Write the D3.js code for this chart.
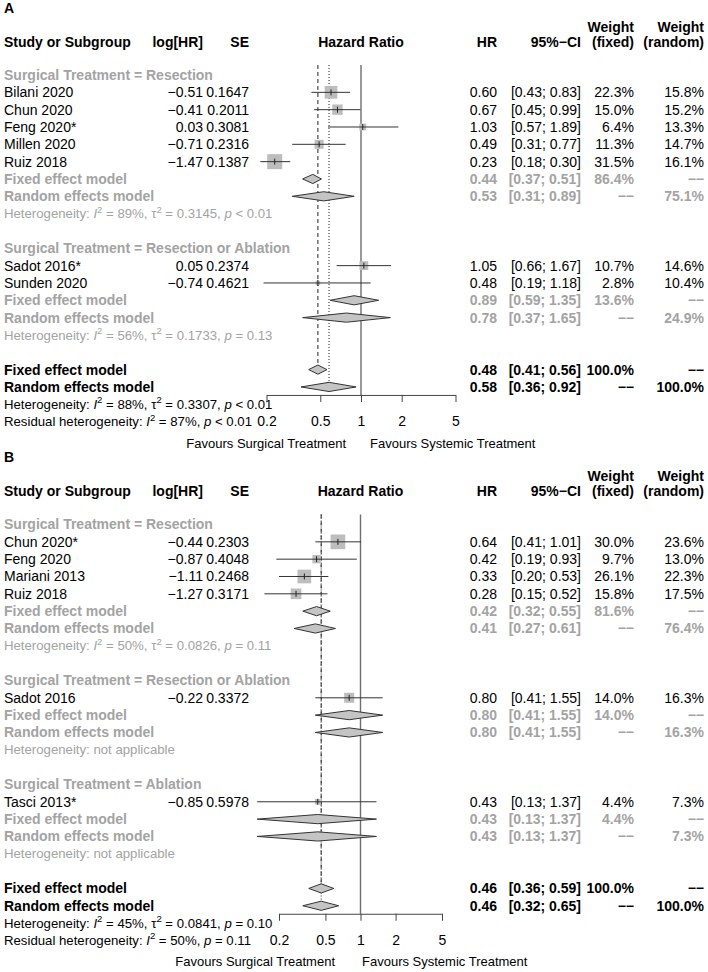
<!DOCTYPE html>
<html><head><meta charset="utf-8">
<script src="https://cdn.jsdelivr.net/npm/d3@7"></script>
<style>
body{margin:0;background:#fff}
svg{display:block;font-family:"Liberation Sans",Arial,Helvetica,sans-serif}
</style>
</head><body>
<svg id="c" width="708" height="972"></svg>
<script>
// ---------- Panel A data ----------
const subgroupsA = ["Resection", "Resection or Ablation"];
const studyA = ["Bilani 2020", "Chun 2020", "Feng 2020*", "Millen 2020", "Ruiz 2018", "Sadot 2016*", "Sunden 2020"];
const groupA = [0, 0, 0, 0, 0, 1, 1];
const logHRA = [-0.51, -0.41, 0.03, -0.71, -1.47, 0.05, -0.74];
const seA = [0.1647, 0.2011, 0.3081, 0.2316, 0.1387, 0.2374, 0.4621];
const hrA = [0.60, 0.67, 1.03, 0.49, 0.23, 1.05, 0.48];
const loA = [0.43, 0.45, 0.57, 0.31, 0.18, 0.66, 0.19];
const hiA = [0.83, 0.99, 1.89, 0.77, 0.30, 1.67, 1.18];
const wFixedA = [22.3, 15.0, 6.4, 11.3, 31.5, 10.7, 2.8];
const wRandomA = [15.8, 15.2, 13.3, 14.7, 16.1, 14.6, 10.4];
const subFixedA = [[0.44, 0.37, 0.51], [0.89, 0.59, 1.35]];
const subFixedWA = [86.4, 13.6];
const subRandomA = [[0.53, 0.31, 0.89], [0.78, 0.37, 1.65]];
const subRandomWA = [75.1, 24.9];
const subHetA = [["89%", "0.3145", "< 0.01"], ["56%", "0.1733", "= 0.13"]];
const overallFixedA = [0.48, 0.41, 0.56];
const overallRandomA = [0.58, 0.36, 0.92];
const overallHetA = ["88%", "0.3307", "< 0.01"];
const residHetA = ["87%", "< 0.01"];

// ---------- Panel B data ----------
const subgroupsB = ["Resection", "Resection or Ablation", "Ablation"];
const studyB = ["Chun 2020*", "Feng 2020", "Mariani 2013", "Ruiz 2018", "Sadot 2016", "Tasci 2013*"];
const groupB = [0, 0, 0, 0, 1, 2];
const logHRB = [-0.44, -0.87, -1.11, -1.27, -0.22, -0.85];
const seB = [0.2303, 0.4048, 0.2468, 0.3171, 0.3372, 0.5978];
const hrB = [0.64, 0.42, 0.33, 0.28, 0.80, 0.43];
const loB = [0.41, 0.19, 0.20, 0.15, 0.41, 0.13];
const hiB = [1.01, 0.93, 0.53, 0.52, 1.55, 1.37];
const wFixedB = [30.0, 9.7, 26.1, 15.8, 14.0, 4.4];
const wRandomB = [23.6, 13.0, 22.3, 17.5, 16.3, 7.3];
const subFixedB = [[0.42, 0.32, 0.55], [0.80, 0.41, 1.55], [0.43, 0.13, 1.37]];
const subFixedWB = [81.6, 14.0, 4.4];
const subRandomB = [[0.41, 0.27, 0.61], [0.80, 0.41, 1.55], [0.43, 0.13, 1.37]];
const subRandomWB = [76.4, 16.3, 7.3];
const subHetB = [["50%", "0.0826", "= 0.11"], null, null];
const overallFixedB = [0.46, 0.36, 0.59];
const overallRandomB = [0.46, 0.32, 0.65];
const overallHetB = ["45%", "0.0841", "= 0.10"];
const residHetB = ["50%", "= 0.11"];

const tickValues = [0.2, 0.5, 1, 2, 5];
const tickLabels = ["0.2", "0.5", "1", "2", "5"];

// ---------- drawing ----------
const svg = d3.select("#c");
const GRAY = "#a3a3a3";
const FS = 14, FSH = 13.2;
const PITCH = 17.33;
const DASHES = "\u2212\u2212";
const col = {logHR: 203, se: 249, hr: 497, ci: 581, wf: 634, wr: 704};
const f2 = d3.format(".2f"), f4 = d3.format(".4f"), f1 = d3.format(".1f");
const sizeScale = d3.scaleSqrt().domain([0, 100]).range([0, 26.8]);

function ciText(a) { return "[" + f2(a[1]) + "; " + f2(a[2]) + "]"; }

function richText(g, x, y, parts, color, size, anchor) {
  const t = g.append("text").attr("x", x).attr("y", y).attr("dy", "0.35em")
    .attr("font-size", size).attr("fill", color).attr("text-anchor", anchor || "start");
  let shifted = false;
  parts.forEach(p => {
    const s = t.append("tspan").text(p.t);
    if (p.i) s.attr("font-style", "italic");
    if (p.sup) { s.attr("dy", -size * 0.42).attr("font-size", size * 0.72); shifted = true; }
    else if (shifted) { s.attr("dy", size * 0.42); shifted = false; }
  });
  return t;
}
function hetParts(h) {
  if (!h) return [{t: "Heterogeneity: not applicable"}];
  return [{t: "Heterogeneity: "}, {t: "I", i: 1}, {t: "2", sup: 1}, {t: " = " + h[0] + ",  "},
          {t: "τ"}, {t: "2", sup: 1}, {t: " = " + h[1] + ", "}, {t: "p", i: 1}, {t: " " + h[2]}];
}
function txt(g, x, y, s, o) {
  o = o || {};
  return g.append("text").attr("x", x).attr("y", y).attr("dy", "0.35em")
    .attr("font-size", o.size || FS).attr("font-weight", o.bold ? "bold" : null)
    .attr("fill", o.color || "#000").attr("text-anchor", o.anchor || "start").text(s);
}

function drawPanel(p) {
  const g = svg.append("g");
  const x = d3.scaleLog().domain([0.2, 5]).range(p.xr);
  const rows = [];
  p.subgroups.forEach((sg, k) => {
    rows.push({type: "sub", k});
    p.group.forEach((gi, i) => { if (gi === k) rows.push({type: "study", i}); });
    rows.push({type: "fixed", k});
    rows.push({type: "random", k});
    rows.push({type: "het", k});
    rows.push({type: "blank"});
  });
  rows.push({type: "ofixed"}, {type: "orandom"}, {type: "ohet"}, {type: "resid"});
  const y = i => p.y0 + i * PITCH;
  const rowY = {};
  rows.forEach((r, i) => { r.y = y(i); rowY[r.type] = r.y; });
  const axisY = rowY.orandom + 8;
  const top = p.y0 - 10;

  txt(g, 4, p.y0 - 67, p.label, {bold: 1, size: 14});
  txt(g, 4, p.y0 - 33, "Study or Subgroup", {bold: 1});
  txt(g, col.logHR, p.y0 - 33, "log[HR]", {bold: 1, anchor: "end"});
  txt(g, col.se, p.y0 - 33, "SE", {bold: 1, anchor: "end"});
  txt(g, x(1), p.y0 - 33, "Hazard Ratio", {bold: 1, anchor: "middle"});
  txt(g, col.hr, p.y0 - 33, "HR", {bold: 1, anchor: "end"});
  txt(g, col.ci, p.y0 - 33, "95%−CI", {bold: 1, anchor: "end"});
  txt(g, col.wf, p.y0 - 48, "Weight", {bold: 1, anchor: "end"});
  txt(g, col.wr, p.y0 - 48, "Weight", {bold: 1, anchor: "end"});
  txt(g, col.wf, p.y0 - 33, "(fixed)", {bold: 1, anchor: "end"});
  txt(g, col.wr, p.y0 - 33, "(random)", {bold: 1, anchor: "end"});

  g.append("line").attr("x1", x(1)).attr("x2", x(1)).attr("y1", top).attr("y2", axisY)
    .attr("stroke", "#6e6e6e").attr("stroke-width", 1.4);
  g.append("line").attr("x1", x(p.oFixed[0])).attr("x2", x(p.oFixed[0])).attr("y1", top).attr("y2", rowY.ofixed)
    .attr("stroke", "#222").attr("stroke-width", 1).attr("stroke-dasharray", "4,3");
  g.append("line").attr("x1", x(p.oRandom[0])).attr("x2", x(p.oRandom[0])).attr("y1", top).attr("y2", rowY.orandom)
    .attr("stroke", "#222").attr("stroke-width", 1).attr("stroke-dasharray", "1,2");

  function diamond(a, yy) {
    g.append("path").attr("d", `M${x(a[1])},${yy}L${x(a[0])},${yy - 4.6}L${x(a[2])},${yy}L${x(a[0])},${yy + 4.6}Z`)
      .attr("fill", "#c4c4c4").attr("stroke", "#333").attr("stroke-width", 1);
  }

  rows.forEach(r => {
    const yy = r.y;
    if (r.type === "sub") {
      txt(g, 4, yy, "Surgical Treatment = " + p.subgroups[r.k], {bold: 1, color: GRAY});
    } else if (r.type === "study") {
      const i = r.i;
      txt(g, 4, yy, p.study[i]);
      txt(g, col.logHR, yy, f2(p.logHR[i]), {anchor: "end"});
      txt(g, col.se, yy, f4(p.se[i]), {anchor: "end"});
      txt(g, col.hr, yy, f2(p.hr[i]), {anchor: "end"});
      txt(g, col.ci, yy, ciText([p.hr[i], p.lo[i], p.hi[i]]), {anchor: "end"});
      txt(g, col.wf, yy, f1(p.wF[i]) + "%", {anchor: "end"});
      txt(g, col.wr, yy, f1(p.wR[i]) + "%", {anchor: "end"});
      const s = sizeScale(p.wF[i]);
      g.append("rect").attr("x", x(p.hr[i]) - s / 2).attr("y", yy - s / 2).attr("width", s).attr("height", s)
        .attr("fill", "#bdbdbd");
      g.append("line").attr("x1", x(p.lo[i])).attr("x2", x(p.hi[i])).attr("y1", yy).attr("y2", yy)
        .attr("stroke", "#333").attr("stroke-width", 1);
      g.append("line").attr("x1", x(p.hr[i])).attr("x2", x(p.hr[i])).attr("y1", yy - 3).attr("y2", yy + 3)
        .attr("stroke", "#222").attr("stroke-width", 1);
    } else if (r.type === "fixed" || r.type === "random") {
      const isF = r.type === "fixed";
      const a = isF ? p.subFixed[r.k] : p.subRandom[r.k];
      txt(g, 4, yy, isF ? "Fixed effect model" : "Random effects model", {bold: 1, color: GRAY});
      txt(g, col.hr, yy, f2(a[0]), {bold: 1, color: GRAY, anchor: "end"});
      txt(g, col.ci, yy, ciText(a), {bold: 1, color: GRAY, anchor: "end"});
      txt(g, col.wf, yy, isF ? f1(p.subFixedW[r.k]) + "%" : DASHES, {bold: 1, color: GRAY, anchor: "end"});
      txt(g, col.wr, yy, isF ? DASHES : f1(p.subRandomW[r.k]) + "%", {bold: 1, color: GRAY, anchor: "end"});
      diamond(a, yy);
    } else if (r.type === "het") {
      richText(g, 4, yy, hetParts(p.subHet[r.k]), GRAY, FSH);
    } else if (r.type === "ofixed" || r.type === "orandom") {
      const isF = r.type === "ofixed";
      const a = isF ? p.oFixed : p.oRandom;
      txt(g, 4, yy, isF ? "Fixed effect model" : "Random effects model", {bold: 1});
      txt(g, col.hr, yy, f2(a[0]), {bold: 1, anchor: "end"});
      txt(g, col.ci, yy, ciText(a), {bold: 1, anchor: "end"});
      txt(g, col.wf, yy, isF ? "100.0%" : DASHES, {bold: 1, anchor: "end"});
      txt(g, col.wr, yy, isF ? DASHES : "100.0%", {bold: 1, anchor: "end"});
      diamond(a, yy);
    } else if (r.type === "ohet") {
      richText(g, 4, yy, hetParts(p.oHet), "#000", FSH);
    } else if (r.type === "resid") {
      richText(g, 4, yy, [{t: "Residual heterogeneity: "}, {t: "I", i: 1}, {t: "2", sup: 1},
        {t: " = " + p.resid[0] + ", "}, {t: "p", i: 1}, {t: " " + p.resid[1]}], "#000", FSH);
    }
  });

  const ax = g.append("g").attr("transform", `translate(0,${axisY})`)
    .call(d3.axisBottom(x).tickValues(tickValues).tickSize(7).tickSizeOuter(0).tickPadding(14)
      .tickFormat((d, i) => tickLabels[i]));
  ax.select(".domain").attr("stroke", "#444");
  ax.selectAll(".tick line").attr("stroke", "#444");
  ax.selectAll(".tick text").attr("font-size", FS).attr("fill", "#000")
    .attr("font-family", '"Liberation Sans",Arial,Helvetica,sans-serif');

  const fy = rowY.resid + 21.5;
  txt(g, p.favL, fy, "Favours Surgical Treatment", {size: 13, anchor: "end"});
  txt(g, p.favR, fy, "Favours Systemic Treatment", {size: 13});
}

drawPanel({label: "A", y0: 75, xr: [266.5, 455.5], subgroups: subgroupsA, study: studyA, group: groupA,
  logHR: logHRA, se: seA, hr: hrA, lo: loA, hi: hiA, wF: wFixedA, wR: wRandomA,
  subFixed: subFixedA, subFixedW: subFixedWA, subRandom: subRandomA, subRandomW: subRandomWA, subHet: subHetA,
  oFixed: overallFixedA, oRandom: overallRandomA, oHet: overallHetA, resid: residHetA, favL: 346, favR: 370});

drawPanel({label: "B", y0: 524.5, xr: [279, 442], subgroups: subgroupsB, study: studyB, group: groupB,
  logHR: logHRB, se: seB, hr: hrB, lo: loB, hi: hiB, wF: wFixedB, wR: wRandomB,
  subFixed: subFixedB, subFixedW: subFixedWB, subRandom: subRandomB, subRandomW: subRandomWB, subHet: subHetB,
  oFixed: overallFixedB, oRandom: overallRandomB, oHet: overallHetB, resid: residHetB, favL: 335, favR: 362});
</script>
</body></html>
